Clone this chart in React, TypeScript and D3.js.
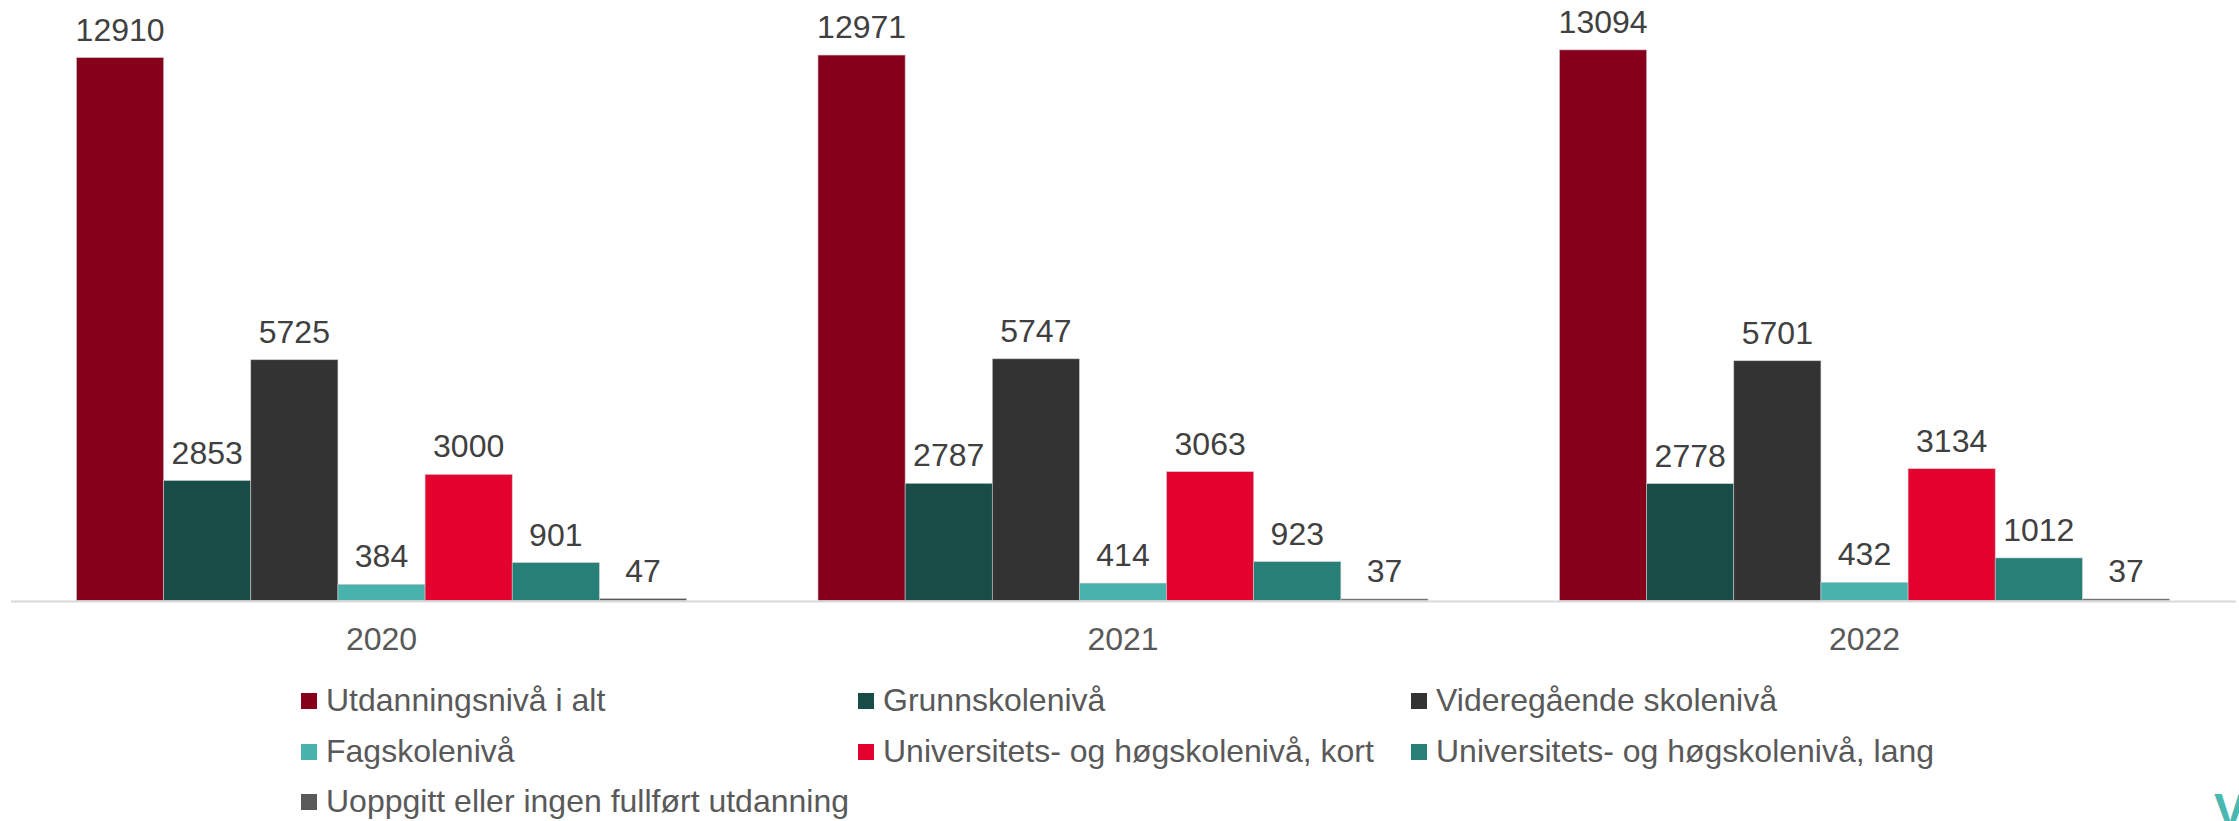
import React from 'react';
import * as d3 from 'd3';

// data
const years = ['2020', '2021', '2022'];
const seriesNames = [
    'Utdanningsnivå i alt',
    'Grunnskolenivå',
    'Videregående skolenivå',
    'Fagskolenivå',
    'Universitets- og høgskolenivå, kort',
    'Universitets- og høgskolenivå, lang',
    'Uoppgitt eller ingen fullført utdanning',
];
const seriesColors = ['#86001c', '#174c47', '#333333', '#48b2ac', '#e4032e', '#268078', '#595959'];

// values per series, in year order
const alt = [12910, 12971, 13094];
const grunnskole = [2853, 2787, 2778];
const videregaende = [5725, 5747, 5701];
const fagskole = [384, 414, 432];
const uniKort = [3000, 3063, 3134];
const uniLang = [901, 923, 1012];
const uoppgitt = [47, 37, 37];

const seriesValues = [alt, grunnskole, videregaende, fagskole, uniKort, uniLang, uoppgitt];

const width = 2239;
const height = 821;
const font = '"Liberation Sans", Arial, sans-serif';

const App = () => {
    const x0 = d3.scaleBand().domain(years).range([10.75, 2235.25]);
    const groupWidth = 610;
    const groupOffset = (x0.bandwidth() - groupWidth) / 2;
    const x1 = d3.scaleBand().domain(seriesNames).range([0, groupWidth]);
    const y = d3.scaleLinear().domain([0, 14280]).range([600.5, 0]);

    const legendCols = [301, 858, 1411];
    const legendRows = [711, 762, 812];

    return (
        <svg width={width} height={height} style={{ position: 'absolute', left: 0, top: 0, background: '#fff' }}>
            <rect x={0} y={0} width={width} height={height} fill="#fff" />

            {/* bars */}
            {years.map((yr, i) => (
                <g key={yr} transform={`translate(${x0(yr) + groupOffset},0)`}>
                    {seriesNames.map((s, j) => {
                        const v = seriesValues[j][i];
                        return (
                            <rect key={s}
                                x={x1(s)}
                                y={y(v)}
                                width={x1.bandwidth()}
                                height={y(0) - y(v)}
                                fill={seriesColors[j]}
                                stroke="#c8c8c8"
                                strokeWidth={0.6}
                            />
                        );
                    })}
                    {seriesNames.map((s, j) => {
                        const v = seriesValues[j][i];
                        return (
                            <text key={s + 'l'}
                                x={x1(s) + x1.bandwidth() / 2}
                                y={y(v) - 17}
                                textAnchor="middle"
                                fontFamily={font}
                                fontSize={32}
                                fill="#404040">
                                {v}
                            </text>
                        );
                    })}
                </g>
            ))}

            {/* axis line */}
            <line x1={11} x2={2236} y1={601.5} y2={601.5} stroke="#d9d9d9" strokeWidth={2} />

            {/* category labels */}
            {years.map(yr => (
                <text key={yr}
                    x={x0(yr) + x0.bandwidth() / 2}
                    y={650}
                    textAnchor="middle"
                    fontFamily={font}
                    fontSize={32}
                    fill="#595959">
                    {yr}
                </text>
            ))}

            {/* legend */}
            {seriesNames.map((s, j) => {
                const lx = legendCols[j % 3];
                const ly = legendRows[Math.floor(j / 3)];
                return (
                    <g key={s}>
                        <rect x={lx} y={ly - 18} width={16} height={16} fill={seriesColors[j]} />
                        <text x={lx + 25} y={ly} fontFamily={font} fontSize={32} fill="#595959">{s}</text>
                    </g>
                );
            })}

            {/* logo fragment at the corner */}
            <text x={2214} y={827} fontFamily={font} fontWeight="bold" fontSize={48} fill="#48b8b0">V</text>
        </svg>
    );
};

export default App;
